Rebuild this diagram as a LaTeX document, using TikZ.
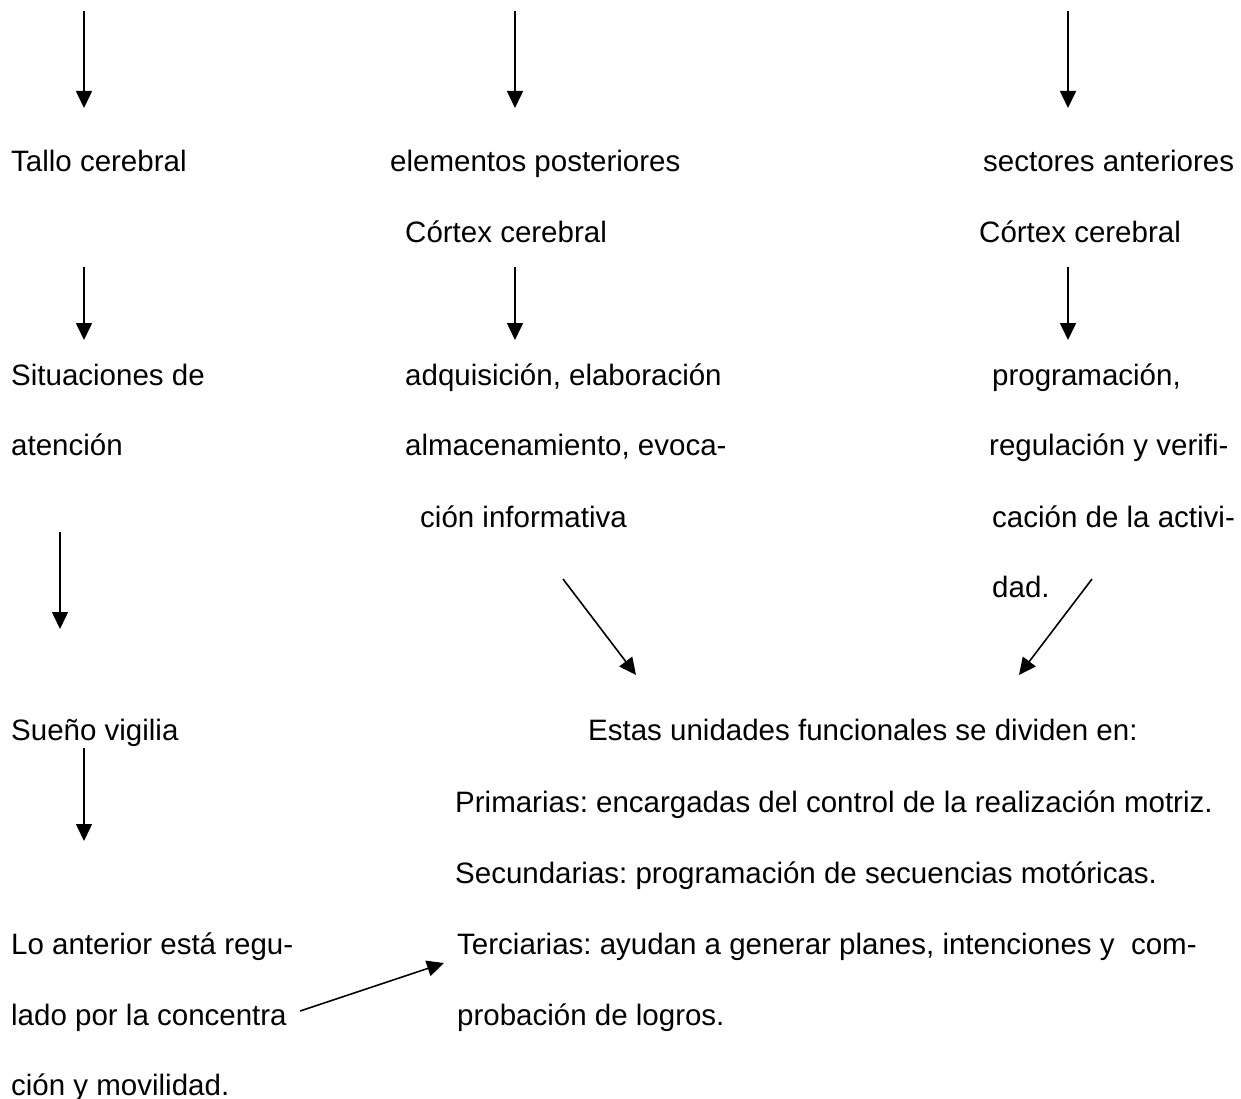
\documentclass[tikz,border=0pt]{standalone}
\usepackage{fontspec}
\setmainfont{Liberation Sans}
\usetikzlibrary{arrows.meta}
\begin{document}
\frenchspacing
\begin{tikzpicture}[x=1pt,y=-1pt,
  txt/.style={anchor=base west,inner sep=0pt,font=\fontsize{29.5}{35}\selectfont},
  arr/.style={line width=1.6pt,-{Triangle[length=17pt,width=16pt]}}]
\useasboundingbox (0,0) rectangle (1241,1099);
% texts
\node[txt] (t1) at (11,172) {Tallo cerebral};
\node[txt] (t2) at (390,172) {elementos posteriores};
\node[txt] (t3) at (983,172) {sectores anteriores};
\node[txt] (t4) at (405,243) {Córtex cerebral};
\node[txt] (t5) at (979,243) {Córtex cerebral};
\node[txt] (t6) at (11,385) {Situaciones de};
\node[txt] (t7) at (405,385) {adquisición, elaboración};
\node[txt] (t8) at (992,385) {programación,};
\node[txt] (t9) at (11,455) {atención};
\node[txt] (t10) at (405,455) {almacenamiento, evoca-};
\node[txt] (t11) at (989,455) {regulación y verifi-};
\node[txt] (t12) at (420,527) {ción informativa};
\node[txt] (t13) at (992,527) {cación de la activi-};
\node[txt] (t14) at (992,597) {dad.};
\node[txt] (t15) at (11,740) {Sueño vigilia};
\node[txt] (t16) at (588,740) {Estas unidades funcionales se dividen en:};
\node[txt] (t17) at (455,812) {Primarias: encargadas del control de la realización motriz.};
\node[txt] (t18) at (455,883) {Secundarias: programación de secuencias motóricas.};
\node[txt] (t19) at (11,954) {Lo anterior está regu-};
\node[txt] (t20) at (457,954) {Terciarias: ayudan a generar planes, intenciones y \ com-};
\node[txt] (t21) at (11,1025) {lado por la concentra};
\node[txt] (t22) at (457,1025) {probación de logros.};
\node[txt] (t23) at (11,1095) {ción y movilidad.};
% arrow endpoints
\coordinate (a1s) at (84,11);   \coordinate (a1e) at (84,108);
\coordinate (a2s) at (515,11);  \coordinate (a2e) at (515,108);
\coordinate (a3s) at (1068,11); \coordinate (a3e) at (1068,108);
\coordinate (b1s) at (84,267);  \coordinate (b1e) at (84,340);
\coordinate (b2s) at (515,267); \coordinate (b2e) at (515,340);
\coordinate (b3s) at (1068,267);\coordinate (b3e) at (1068,340);
\coordinate (c1s) at (60,532);  \coordinate (c1e) at (60,629);
\coordinate (d1s) at (563,579); \coordinate (d1e) at (636,675);
\coordinate (d2s) at (1092,579);\coordinate (d2e) at (1019,675);
\coordinate (e1s) at (84,748);  \coordinate (e1e) at (84,841);
\coordinate (f1s) at (300,1011);\coordinate (f1e) at (444,963);
\foreach \s/\e in {a1s/a1e,a2s/a2e,a3s/a3e,b1s/b1e,b2s/b2e,b3s/b3e,c1s/c1e,d1s/d1e,d2s/d2e,e1s/e1e,f1s/f1e}
  \draw[arr] (\s) -- (\e);
\end{tikzpicture}
\end{document}
